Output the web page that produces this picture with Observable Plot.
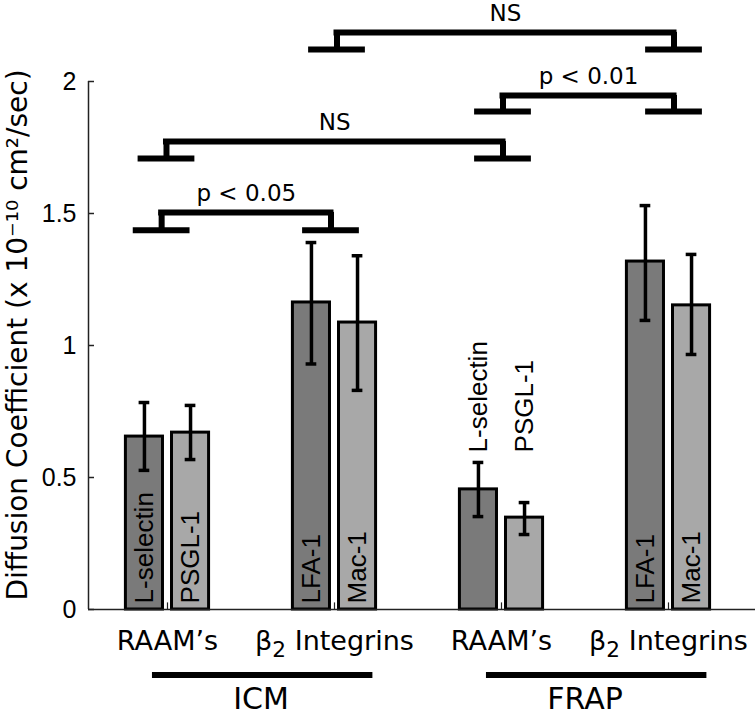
<!DOCTYPE html>
<html>
<head>
<meta charset="utf-8">
<script src="https://cdn.jsdelivr.net/npm/d3@7"></script>
<script src="https://cdn.jsdelivr.net/npm/@observablehq/plot@0.6"></script>
<style>
  html, body { margin: 0; padding: 0; background: #fff; }
</style>
</head>
<body>
<div id="chart"></div>
<script>
// ---- data ----
const categories = ["RAAM\u2019s", "\u03B2\u2082 Integrins", "RAAM\u2019s", "\u03B2\u2082 Integrins"];
const categoryPos = [1, 2, 3, 4];
const methods = ["ICM", "FRAP"];
const methodStart = [0.91, 2.91];
const methodEnd = [2.23, 4.23];
const methodLabelPos = [1.56, 3.5];

const proteins   = ["L-selectin", "PSGL-1", "LFA-1", "Mac-1", "L-selectin", "PSGL-1", "LFA-1", "Mac-1"];
const barGroup   = [1, 1, 2, 2, 3, 3, 4, 4];
const barSide    = [-1, 1, -1, 1, -1, 1, -1, 1];
const values     = [0.655, 0.670, 1.163, 1.087, 0.455, 0.348, 1.318, 1.152];
const errLow     = [0.527, 0.568, 0.930, 0.830, 0.352, 0.284, 1.095, 0.966];
const errHigh    = [0.784, 0.773, 1.390, 1.340, 0.557, 0.405, 1.530, 1.345];
const labelInside = [true, true, true, true, false, false, true, true];

const yTicks = [0, 0.5, 1, 1.5, 2];
const yTickLabels = ["0", "0.5", "1", "1.5", "2"];

const compLabels = ["p < 0.05", "NS", "p < 0.01", "NS"];
const compLeft   = [0.965, 0.994, 3.009, 2.015];
const compRight  = [1.979, 3.009, 4.033, 4.033];
const compTop    = [1.504, 1.773, 1.947, 2.186];
const compFoot   = [1.437, 1.708, 1.886, 2.121];

// ---- layout constants ----
const xDomain = [0.527, 4.521];
const barOffset = 0.138, barHalf = 0.111, capHalf = 0.032, footHalf = 0.17;
const darkFill = "#7a7a7a", lightFill = "#a8a8a8";

const bars = proteins.map((p, i) => ({
  protein: p,
  center: barGroup[i] + barSide[i] * barOffset,
  value: values[i], lo: errLow[i], hi: errHigh[i],
  inside: labelInside[i],
  fill: barSide[i] < 0 ? darkFill : lightFill
}));
const comps = compLabels.map((t, i) => ({
  label: t, left: compLeft[i], right: compRight[i], top: compTop[i], foot: compFoot[i]
}));
const feet = comps.flatMap(c => [{x: c.left, y: c.foot, top: c.top}, {x: c.right, y: c.foot, top: c.top}]);
const cats = categories.map((c, i) => ({label: c, x: categoryPos[i]}));
const meths = methods.map((m, i) => ({label: m, x1: methodStart[i], x2: methodEnd[i], lx: methodLabelPos[i]}));
const ticks = yTicks.map((t, i) => ({y: t, label: yTickLabels[i]}));

const sans = "'DejaVu Sans', Verdana, sans-serif";
const arial = "'Liberation Sans', Arial, sans-serif";

const chart = Plot.plot({
  width: 755,
  height: 715,
  marginLeft: 88,
  marginRight: 0,
  marginTop: 81,
  marginBottom: 106,
  style: {background: "#fff", fontFamily: sans, overflow: "visible"},
  x: {type: "linear", domain: xDomain, axis: null},
  y: {domain: [0, 2], axis: null},
  marks: [
    // bars
    Plot.rect(bars, {x1: d => d.center - barHalf, x2: d => d.center + barHalf, y1: 0, y2: "value",
      fill: d => d.fill, stroke: "#000", strokeWidth: 3}),
    // x baseline and y axis
    Plot.ruleY([0], {x1: xDomain[0], x2: xDomain[1], stroke: "#222", strokeWidth: 1.5}),
    Plot.ruleX([xDomain[0]], {y1: 0, y2: 2, stroke: "#222", strokeWidth: 1.5}),
    Plot.ruleY(ticks, {y: "y", x1: xDomain[0], x2: xDomain[0] + 0.036, stroke: "#222", strokeWidth: 1.5}),
    Plot.ruleX(categoryPos, {y1: 0, y2: 0.025, stroke: "#222", strokeWidth: 1.2}),
    Plot.text(ticks, {x: xDomain[0], y: "y", text: "label", dx: -12, textAnchor: "end",
      fontSize: 25, fontFamily: arial, fill: "#000"}),
    // error bars
    Plot.ruleX(bars, {x: "center", y1: "lo", y2: "hi", stroke: "#000", strokeWidth: 3.5}),
    Plot.ruleY(bars, {y: "hi", x1: d => d.center - capHalf, x2: d => d.center + capHalf, stroke: "#000", strokeWidth: 3.5}),
    Plot.ruleY(bars, {y: "lo", x1: d => d.center - capHalf, x2: d => d.center + capHalf, stroke: "#000", strokeWidth: 3.5}),
    // bar labels
    Plot.text(bars, {x: "center", y: d => d.inside ? 0.023 : 0.595, text: "protein", rotate: -90,
      textAnchor: "start", lineAnchor: "middle", fontSize: 26, fontFamily: arial, fill: "#000"}),
    // significance brackets
    Plot.ruleY(comps, {y: "top", x1: "left", x2: "right", stroke: "#000", strokeWidth: 6, strokeLinecap: "square"}),
    Plot.ruleX(feet, {x: "x", y1: "y", y2: "top", stroke: "#000", strokeWidth: 6}),
    Plot.ruleY(feet, {y: "y", x1: d => d.x - footHalf, x2: d => d.x + footHalf, stroke: "#000", strokeWidth: 6}),
    Plot.text(comps, {x: d => (d.left + d.right) / 2, y: "top", text: "label", lineAnchor: "bottom", dy: -11,
      fontSize: 23, fontFamily: sans, fill: "#000"}),
    // category labels
    Plot.text(cats, {x: "x", y: -0.155, text: "label", lineAnchor: "bottom", fontSize: 27, fontFamily: sans, fill: "#000"}),
    // method lines & labels
    Plot.ruleY(meths, {y: -0.248, x1: "x1", x2: "x2", stroke: "#000", strokeWidth: 6}),
    Plot.text(meths, {x: "lx", y: -0.378, text: "label", lineAnchor: "bottom", fontSize: 30, fontFamily: sans, fill: "#000"}),
    // y axis title
    Plot.text(["Diffusion Coefficient (x 10\u207B\u00B9\u2070 cm\u00B2/sec)"], {x: xDomain[0], y: 1.04, text: d => d,
      dx: -70, rotate: -90, textAnchor: "middle", lineAnchor: "middle", fontSize: 28, fontFamily: sans, fill: "#000"})
  ]
});

// render the beta subscript as a real lowered "2"
d3.select(chart).selectAll("text").each(function () {
  const s = this.textContent;
  const k = s.indexOf("\u2082");
  if (k < 0 || this.children.length) return;
  const t = d3.select(this);
  t.text(null);
  t.append("tspan").text(s.slice(0, k));
  t.append("tspan").attr("dy", "0.32em").attr("font-size", "0.8em").text("2");
  t.append("tspan").attr("dy", "-0.26em").text(s.slice(k + 1));
});

document.getElementById("chart").appendChild(chart);
</script>
</body>
</html>
